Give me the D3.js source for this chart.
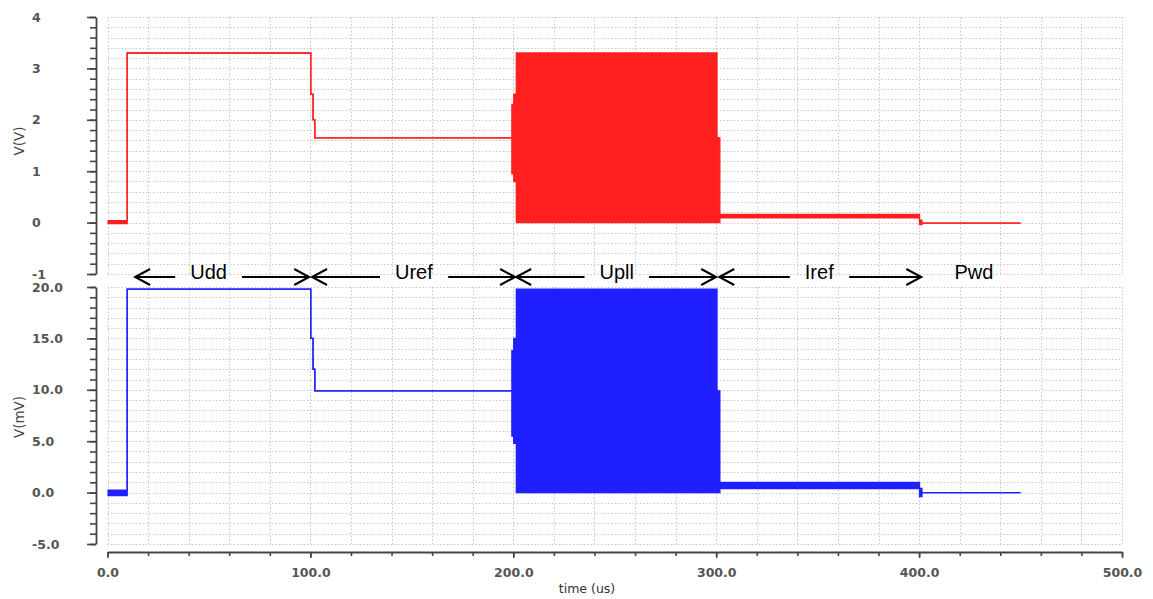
<!DOCTYPE html>
<html>
<head>
<meta charset="utf-8">
<script src="https://cdn.jsdelivr.net/npm/d3@7"></script>
<style>
  html, body { margin: 0; padding: 0; background: #fff; }
  svg { display: block; }
</style>
</head>
<body>
<svg id="chart" width="1153" height="599"></svg>
<script>
// Supply voltage (V) envelope, step-after: value holds from t[i] to t[i+1]
const timeV = [0, 9.7, 100.2, 101.3, 102.2, 199.3, 200.2, 201.5, 300.4, 301.8, 400.2, 401.4, 450];
const loV   = [-0.02, 3.3, 2.5, 2.0, 1.65, 0.95, 0.8, 0.0, 0.0, 0.09, -0.04, -0.01, -0.01];
const hiV   = [0.04, 3.3, 2.5, 2.0, 1.65, 2.3, 2.5, 3.3, 1.65, 0.16, 0.05, -0.01, -0.01];

// Sense voltage (mV) envelope, same time base
const timeMV = [0, 9.7, 100.2, 101.3, 102.2, 199.3, 200.2, 201.5, 300.4, 301.8, 400.2, 401.4, 450];
const loMV   = [-0.3, 19.8, 15.0, 12.0, 9.9, 5.5, 4.8, 0.0, 0.0, 0.4, -0.4, 0.0, 0.0];
const hiMV   = [0.25, 19.8, 15.0, 12.0, 9.9, 13.8, 15.0, 19.8, 9.9, 1.0, 0.4, 0.0, 0.0];

// Axis ticks
const xTicks = [0, 100, 200, 300, 400, 500];
const yTicksV = [-1, 0, 1, 2, 3, 4];
const yTicksMV = [-5, 0, 5, 10, 15, 20];

// Operating phases along the time axis
const phaseNames  = ["Udd", "Uref", "Upll", "Iref", "Pwd"];
const phaseLabelT = [49.8, 151, 251, 350.8, 427];
const phaseStartT = [13.6, 100.8, 201.4, 301.5, null];
const phaseEndT   = [99.4, 200.9, 300.0, 401.1, null];

const svg = d3.select("#chart");

const x = d3.scaleLinear().domain([0, 500]).range([107.5, 1122]);
const yV = d3.scaleLinear().domain([-1, 4]).range([274, 17]);
const yMV = d3.scaleLinear().domain([-5, 20]).range([544, 287]);

const axisX = 96;       // left axis line position
const xAxisY = 552;     // bottom axis line position

const gridColor = "#c8c8c8";

// plain hyphen for negative numbers
const hyphen = f => d => f(d).replace("\u2212", "-");

function drawPanel(y, minorStep, majorTicks, fmt, title, times, lo, hi, color, titleY) {
  const [d0, d1] = y.domain();
  const g = svg.append("g");

  // dotted grid: horizontal every minor step, vertical every 20 us
  const hLines = d3.range(d0, d1 + minorStep / 2, minorStep);
  g.selectAll(".hg").data(hLines).join("line")
    .attr("x1", x(0)).attr("x2", x(500))
    .attr("y1", d => Math.round(y(d)) + 0.5).attr("y2", d => Math.round(y(d)) + 0.5)
    .attr("stroke", gridColor).attr("stroke-width", 1)
    .attr("stroke-dasharray", "1.5,2");
  const vLines = d3.range(0, 501, 20);
  g.selectAll(".vg").data(vLines).join("line")
    .attr("x1", d => Math.round(x(d)) + 0.5).attr("x2", d => Math.round(x(d)) + 0.5)
    .attr("y1", y(d1)).attr("y2", y(d0))
    .attr("stroke", gridColor).attr("stroke-width", 1)
    .attr("stroke-dasharray", "1.5,2");

  // left axis: minor ticks, then major ticks with labels
  const minor = g.append("g").attr("transform", `translate(${axisX},0)`)
    .call(d3.axisLeft(y).tickValues(hLines).tickSize(6).tickFormat(""));
  minor.select(".domain").remove();
  minor.selectAll("line").attr("stroke", "#444").attr("stroke-width", 1.6);

  const major = g.append("g").attr("transform", `translate(${axisX},0)`)
    .call(d3.axisLeft(y).tickValues(majorTicks).tickSize(9).tickSizeOuter(0).tickFormat(hyphen(fmt)));
  major.select(".domain").attr("stroke", "#444").attr("stroke-width", 1.8);
  major.selectAll("line").attr("stroke", "#444").attr("stroke-width", 1.6);
  major.selectAll("text")
    .attr("x", 32 - axisX).attr("text-anchor", "start")
    .attr("fill", "#555")
    .style("font-family", "DejaVu Sans, Verdana, sans-serif")
    .style("font-size", "12.5px").style("font-weight", "bold");

  // axis title
  g.append("text")
    .attr("transform", `translate(24,${titleY}) rotate(-90)`)
    .attr("text-anchor", "middle")
    .attr("fill", "#444")
    .style("font-family", "DejaVu Sans, Verdana, sans-serif")
    .style("font-size", "13.5px")
    .text(title);

  // signal envelope
  const pts = times.map((t, i) => ({ t, lo: lo[i], hi: hi[i] }));
  const area = d3.area().curve(d3.curveStepAfter)
    .x(d => x(d.t)).y0(d => y(d.lo)).y1(d => y(d.hi));
  g.append("path").datum(pts).attr("d", area).attr("fill", color);
  const lineHi = d3.line().curve(d3.curveStepAfter).x(d => x(d.t)).y(d => y(d.hi));
  const lineLo = d3.line().curve(d3.curveStepAfter).x(d => x(d.t)).y(d => y(d.lo));
  [lineHi, lineLo].forEach(l => {
    g.append("path").datum(pts).attr("d", l)
      .attr("fill", "none").attr("stroke", color).attr("stroke-width", 1.3);
  });
}

drawPanel(yV, 0.2, yTicksV, d3.format("d"), "V(V)",
  timeV, loV, hiV, "#ff1f1f", 141);
drawPanel(yMV, 1, yTicksMV, d3.format(".1f"), "V(mV)",
  timeMV, loMV, hiMV, "#1f1fff", 417);

// bottom time axis
const minorX = svg.append("g").attr("transform", `translate(0,${xAxisY})`)
  .call(d3.axisBottom(x).tickValues(d3.range(0, 501, 20)).tickSize(4).tickFormat(""));
minorX.select(".domain").remove();
minorX.selectAll("line").attr("stroke", "#444").attr("stroke-width", 1.6);

const majorX = svg.append("g").attr("transform", `translate(0,${xAxisY})`)
  .call(d3.axisBottom(x).tickValues(xTicks).tickSize(6).tickSizeOuter(0).tickFormat(d3.format(".1f")));
majorX.select(".domain").attr("stroke", "#444").attr("stroke-width", 1.8);
majorX.selectAll("line").attr("stroke", "#444").attr("stroke-width", 1.6);
majorX.selectAll("text")
  .attr("y", 16)
  .attr("fill", "#555")
  .style("font-family", "DejaVu Sans, Verdana, sans-serif")
  .style("font-size", "12.5px").style("font-weight", "bold");

svg.append("text")
  .attr("x", 587).attr("y", 593)
  .attr("text-anchor", "middle")
  .attr("fill", "#333")
  .style("font-family", "DejaVu Sans, Verdana, sans-serif")
  .style("font-size", "12.5px")
  .text("time (us)");

// phase annotations with arrows
const annY = 277;
const ann = svg.append("g");
function chevron(tipX, dir) {
  // dir = -1 points left, +1 points right
  const len = 15, half = 8;
  return `M${tipX - dir * len},${annY - half}L${tipX},${annY}L${tipX - dir * len},${annY + half}`;
}
phaseNames.forEach((name, i) => {
  const cx = x(phaseLabelT[i]);
  const txt = ann.append("text")
    .attr("x", cx).attr("y", annY + 2)
    .attr("text-anchor", "middle")
    .attr("fill", "#000")
    .style("font-family", "Liberation Sans, Arial, sans-serif")
    .style("font-size", "20px")
    .text(name);
  if (phaseStartT[i] == null) return;
  const bb = txt.node().getBBox();
  const gap = 15;
  const sx = x(phaseStartT[i]), ex = x(phaseEndT[i]);
  ann.append("line").attr("x1", bb.x - gap).attr("x2", sx).attr("y1", annY).attr("y2", annY)
    .attr("stroke", "#000").attr("stroke-width", 2);
  ann.append("path").attr("d", chevron(sx, -1)).attr("fill", "none").attr("stroke", "#000").attr("stroke-width", 2);
  ann.append("line").attr("x1", bb.x + bb.width + gap).attr("x2", ex).attr("y1", annY).attr("y2", annY)
    .attr("stroke", "#000").attr("stroke-width", 2);
  ann.append("path").attr("d", chevron(ex, 1)).attr("fill", "none").attr("stroke", "#000").attr("stroke-width", 2);
});
</script>
</body>
</html>
